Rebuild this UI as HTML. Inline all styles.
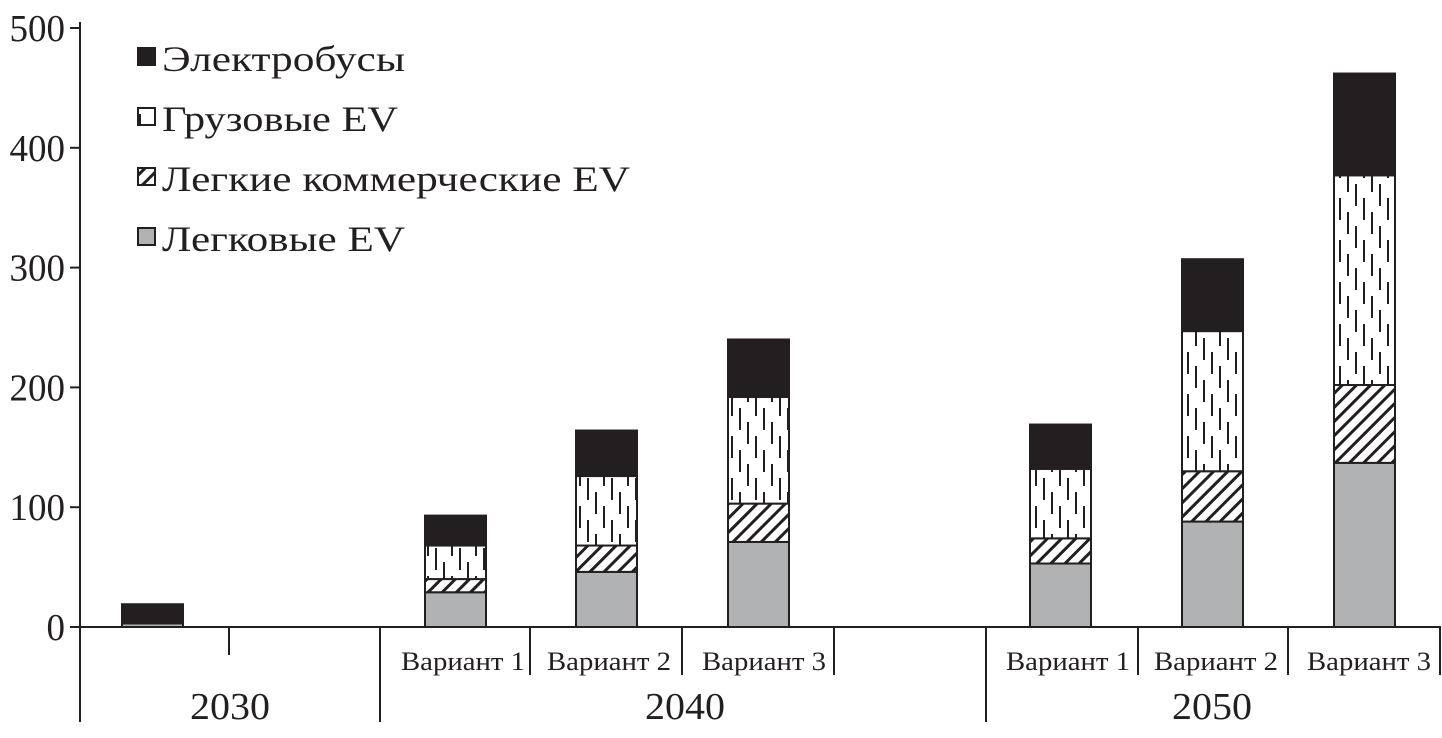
<!DOCTYPE html>
<html><head><meta charset="utf-8"><style>
body{margin:0;background:#fff}
svg text{font-family:"Liberation Serif",serif;fill:#231f20}
</style></head><body>
<svg id="c" width="1442" height="733" viewBox="0 0 1442 733">
<defs>
<pattern id="dash" width="24" height="42" patternUnits="userSpaceOnUse">
<rect width="24" height="42" fill="#fff"/>
<rect x="3" y="2" width="2" height="22" fill="#231f20"/>
<rect x="11" y="16" width="2" height="22" fill="#231f20"/>
<rect x="19" y="30" width="2" height="12" fill="#231f20"/>
<rect x="19" y="0" width="2" height="10" fill="#231f20"/>
</pattern>
<pattern id="hatch" width="10" height="10" patternUnits="userSpaceOnUse" patternTransform="rotate(45)">
<rect width="10" height="10" fill="#fff"/>
<rect x="0" y="0" width="3" height="10" fill="#231f20"/>
</pattern>
</defs>
<g id="axes"></g>
<g id="bars"></g>
<g id="legend"></g>
</svg>
<script>
const categories=["2030","В1 2040","В2 2040","В3 2040","В1 2050","В2 2050","В3 2050"];
const cars=[3,29,46,71,53,88,137];
const lcv=[0,11,22,32,21,42,65];
const trucks=[0,28,58,89,58,117,175];
const buses=[16,25,38,48,37,60,85];
const yTicks=[0,100,200,300,400,500];
const seriesNames=["Электробусы","Грузовые EV","Легкие коммерческие EV","Легковые EV"];
const barX=[122,425,576,728,1030,1182,1334];
const NS="http://www.w3.org/2000/svg";
const y=v=>627-v*1.198;
function el(t,a,p){const e=document.createElementNS(NS,t);for(const k in a)e.setAttribute(k,a[k]);p.appendChild(e);return e;}
const ax=document.getElementById('axes');
let l=el('line',{x1:80,y1:22,x2:80,y2:722,stroke:'#231f20','stroke-width':2},ax);

l=el('line',{x1:80,y1:627,x2:1441,y2:627,stroke:'#231f20','stroke-width':2},ax);

yTicks.forEach(v=>{
 el('line',{x1:70,y1:y(v),x2:80,y2:y(v),stroke:'#231f20','stroke-width':2},ax);
 const t=el('text',{x:65,y:y(v)+13,'text-anchor':'end','font-size':38,textLength:(String(v).length*18.5),lengthAdjust:'spacingAndGlyphs'},ax);t.textContent=v;
 
});
[[229,655],[380,722],[530,675],[682,675],[834,675],[986,722],[1138,675],[1288,675],[1440,675]].forEach(([x,b])=>el('line',{x1:x,y1:627,x2:x,y2:b,stroke:'#231f20','stroke-width':2},ax));
[[463,1],[609,2],[764,3],[1068,1],[1216,2],[1369,3]].forEach(([x,n])=>{const t=el('text',{x:x,y:670,'text-anchor':'middle','font-size':26,textLength:124,lengthAdjust:'spacingAndGlyphs'},ax);t.textContent='Вариант '+n;
 });
[[230,'2030'],[685,'2040'],[1212,'2050']].forEach(([x,s])=>{const t=el('text',{x:x,y:719,'text-anchor':'middle','font-size':38,textLength:80,lengthAdjust:'spacingAndGlyphs'},ax);t.textContent=s;
 });
const bg=document.getElementById('bars');
const fills=['#b1b2b4','url(#hatch)','url(#dash)','#231f20'];
categories.forEach((c,i)=>{
 let base=0;
 [cars,lcv,trucks,buses].forEach((s,j)=>{
  const v=s[i];if(!v)return;
  const r=el('rect',{x:barX[i],y:y(base+v),width:61,height:v*1.198,fill:fills[j],stroke:'#231f20','stroke-width':2},bg);
  
  base+=v;
 });
});
const lg=document.getElementById('legend');
const lens=[243,236,468,243];
seriesNames.forEach((n,i)=>{
 const yy=58+i*60;
 const fill=[ '#231f20','url(#dash)','url(#hatch)','#b1b2b4'][i];
 const r=el('rect',{x:138,y:yy-10,width:17,height:17,fill:fill,stroke:'#231f20','stroke-width':2},lg);
 
 const t=el('text',{x:162,y:yy+13,'font-size':36,textLength:lens[i],lengthAdjust:'spacingAndGlyphs'},lg);t.textContent=n;
 
});
</script>
</body></html>
